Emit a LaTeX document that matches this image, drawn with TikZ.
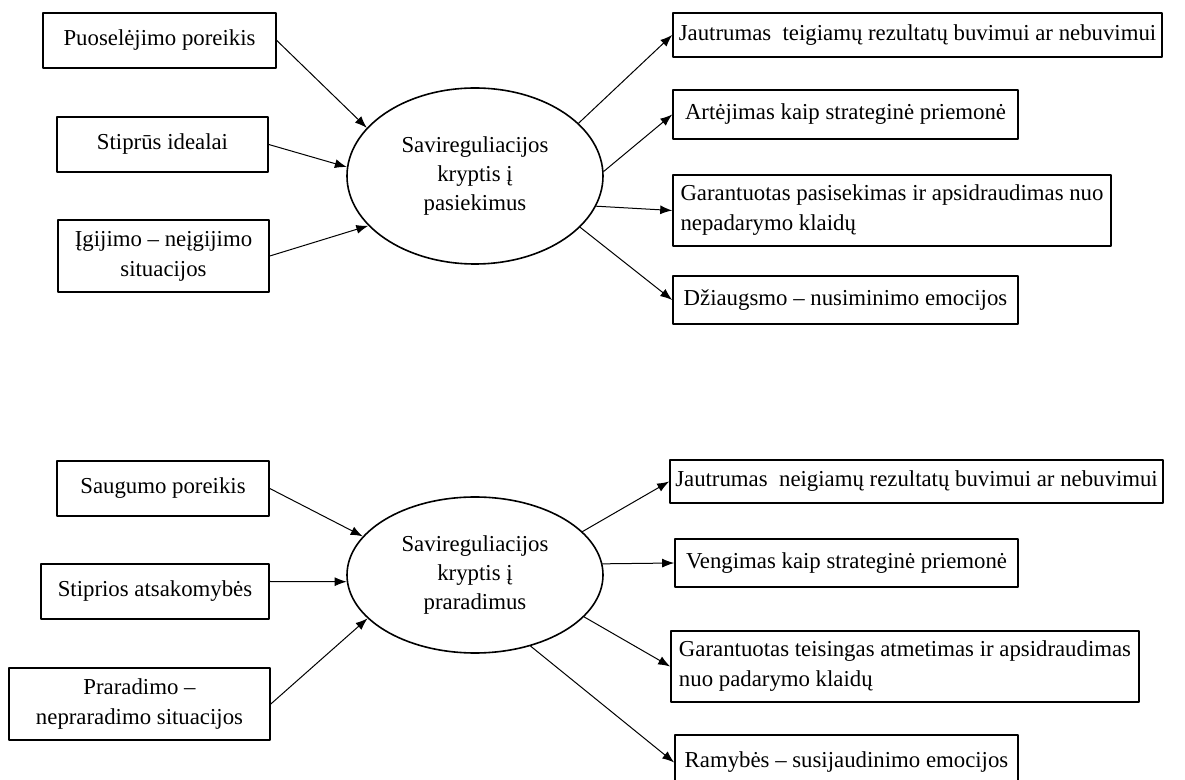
\documentclass[tikz,border=0pt]{standalone}
\usepackage{fontspec}
\setmainfont{Liberation Serif}
\usetikzlibrary{arrows.meta,shapes.geometric}
\tikzset{
  every picture/.append style={line cap=round,line join=round},
  srp box/.style={draw,line width=0.8pt,inner sep=2pt,align=center,font=\fontsize{11.4}{15}\selectfont},
  srp oval/.style={draw,ellipse,line width=0.8pt,inner sep=0pt,minimum width=128pt,align=center,font=\fontsize{11.4}{14.5}\selectfont},
  srp arrow/.style={line width=0.5pt,-{Latex[length=6pt,width=4.5pt]}}
}
\begin{document}
\begin{tikzpicture}[x=0.5pt,y=-0.5pt]
  \useasboundingbox (0,0) rectangle (1185,780);
  \clip (0,0) rectangle (1185,780);
  % pasiekimai
  \node[srp box,minimum width=116.5pt,minimum height=27.5pt] (pos1) at (159.5,40.5) {Puoselėjimo poreikis};
  \node[srp box,minimum width=105.5pt,minimum height=27.5pt] (pos2) at (162.5,144.5) {Stiprūs idealai};
  \node[srp box,minimum width=105.5pt,minimum height=36pt] (pos3) at (163.5,256) {Įgijimo – neįgijimo\\situacijos};
  \node[srp oval,minimum height=88pt] (posell) at (475,176) {Savireguliacijos\\kryptis į\\pasiekimus};
  \node[srp box,minimum width=244.5pt,minimum height=22pt] (posr1) at (917.5,35) {Jautrumas\ \ teigiamų rezultatų buvimui ar nebuvimui};
  \node[srp box,minimum width=172.5pt,minimum height=24.5pt] (posr2) at (845.5,114.5) {Artėjimas kaip strateginė priemonė};
  \node[srp box,align=left,minimum width=219pt,minimum height=35.5pt] (posr3) at (892,210.5) {Garantuotas pasisekimas ir apsidraudimas nuo\\nepadarymo klaidų};
  \node[srp box,minimum width=172.5pt,minimum height=24pt] (posr4) at (845.5,300) {Džiaugsmo – nusiminimo emocijos};
  \draw[srp arrow] (pos1.east) -- (posell.156);
  \draw[srp arrow] (pos2.east) -- (posell.176);
  \draw[srp arrow] (pos3.east) -- (posell.205);
  \draw[srp arrow] (posell.27) -- (posr1.west);
  \draw[srp arrow] (posell.2) -- (posr2.west);
  \draw[srp arrow] (posell.-14) -- (posr3.west);
  \draw[srp arrow] (posell.-26) -- (posr4.west);
  % praradimai
  \node[srp box,minimum width=106pt,minimum height=27.5pt] (neg1) at (163,488.5) {Saugumo poreikis};
  \node[srp box,minimum width=114pt,minimum height=27.5pt] (neg2) at (155,591.5) {Stiprios atsakomybės};
  \node[srp box,minimum width=130.5pt,minimum height=36pt] (neg3) at (139.5,704) {Praradimo –\\nepraradimo situacijos};
  \node[srp oval,minimum height=78pt] (negell) at (475,575) {Savireguliacijos\\kryptis į\\praradimus};
  \node[srp box,minimum width=246.5pt,minimum height=21.5pt] (negr1) at (916.5,481.5) {Jautrumas\ \ neigiamų rezultatų buvimui ar nebuvimui};
  \node[srp box,minimum width=171.5pt,minimum height=24pt] (negr2) at (846.5,563) {Vengimas kaip strateginė priemonė};
  \node[srp box,align=left,minimum width=234pt,minimum height=35.5pt] (negr3) at (905,666.5) {Garantuotas teisingas atmetimas ir apsidraudimas\\nuo padarymo klaidų};
  \node[srp box,minimum width=171.5pt,minimum height=27.5pt] (negr4) at (846.5,762.5) {Ramybės – susijaudinimo emocijos};
  \draw[srp arrow] (neg1.east) -- (negell.161);
  \draw[srp arrow] ([yshift=5pt]neg2.east) -- (negell.183);
  \draw[srp arrow] (neg3.east) -- (negell.202);
  \draw[srp arrow] (negell.22) -- (negr1.west);
  \draw[srp arrow] (negell.5) -- (negr2.west);
  \draw[srp arrow] (negell.-21) -- (negr3.west);
  \draw[srp arrow] (negell.-52) -- (negr4.west);
\end{tikzpicture}
\end{document}
